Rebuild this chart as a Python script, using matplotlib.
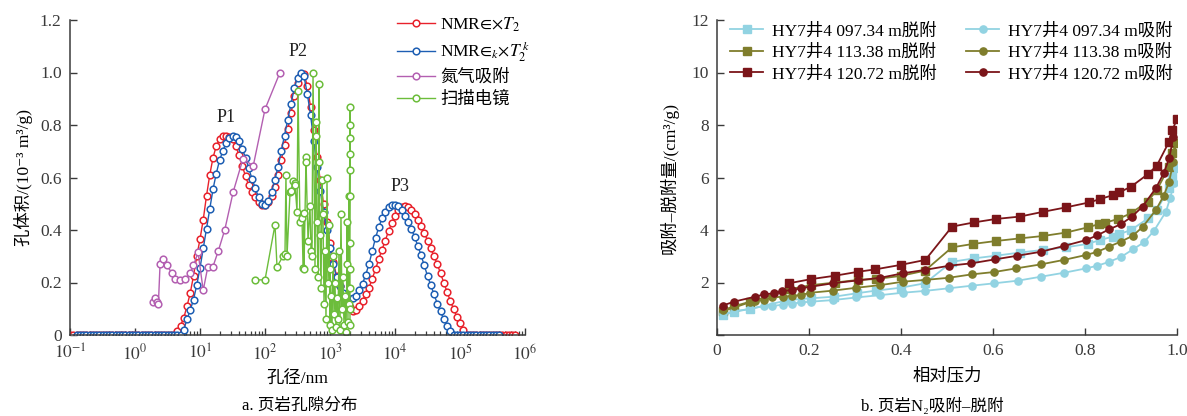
import numpy as np
import matplotlib
matplotlib.use("Agg")
import matplotlib.pyplot as plt
from matplotlib import rcParams
from matplotlib.ticker import FixedLocator, FuncFormatter, NullFormatter

rcParams["font.family"] = ["Liberation Serif", "Noto Sans CJK SC", "DejaVu Serif"]
rcParams["mathtext.fontset"] = "stix"
rcParams["axes.spines.top"] = False
rcParams["axes.spines.right"] = False
rcParams["axes.edgecolor"] = "#3a3a3a"
rcParams["axes.linewidth"] = 1.1
rcParams["xtick.color"] = "#3a3a3a"
rcParams["ytick.color"] = "#3a3a3a"
rcParams["axes.unicode_minus"] = False

RED = "#e8212b"; BLUE = "#1d5eb3"; PURPLE = "#b35fb1"; GREEN = "#6cbd3b"
LBLUE = "#92d3e2"; OLIVE = "#7f7d2c"; DRED = "#7b1519"

# ---------- panel a: pore size distribution ----------
# NMR T2 bins (20 per decade, 0.1 nm .. 7e5 nm)
d_nmr = 10 ** np.arange(-1.0, 5.851, 0.05)
v_nmr_t2 = [0.0] * 32 + [
    0.0, 0.015, 0.035, 0.065, 0.11, 0.16, 0.225, 0.30, 0.365, 0.44,
    0.53, 0.61, 0.675, 0.72, 0.745, 0.757, 0.76, 0.755, 0.745, 0.72,
    0.685, 0.645, 0.605, 0.57, 0.545, 0.525, 0.505, 0.495, 0.495, 0.505,
    0.53, 0.565, 0.61, 0.665, 0.725, 0.785, 0.845, 0.91, 0.96, 0.99,
    0.995, 0.95, 0.87, 0.78, 0.68, 0.59, 0.50, 0.43, 0.35, 0.28,
    0.225, 0.185, 0.155, 0.13, 0.105, 0.092, 0.095, 0.11, 0.13, 0.155,
    0.18, 0.215, 0.25, 0.29, 0.325, 0.36, 0.395, 0.425, 0.455, 0.475,
    0.488, 0.49, 0.486, 0.476, 0.46, 0.44, 0.415, 0.39, 0.36, 0.33,
    0.30, 0.27, 0.235, 0.20, 0.165, 0.13, 0.10, 0.07, 0.045, 0.02,
    0.0] + [0.0] * 15
v_nmr_t2k = [0.0] * 35 + [
    0.02, 0.06, 0.095, 0.135, 0.19, 0.255, 0.33, 0.405, 0.48, 0.555,
    0.615, 0.665, 0.70, 0.73, 0.75, 0.76, 0.755, 0.74, 0.71, 0.675,
    0.635, 0.595, 0.56, 0.525, 0.50, 0.495, 0.51, 0.545, 0.59, 0.64,
    0.70, 0.76, 0.82, 0.88, 0.94, 0.98, 1.0, 0.985, 0.92, 0.84,
    0.74, 0.64, 0.55, 0.47, 0.40, 0.33, 0.27, 0.22, 0.185, 0.16,
    0.145, 0.138, 0.14, 0.15, 0.17, 0.195, 0.23, 0.27, 0.32, 0.37,
    0.41, 0.445, 0.47, 0.488, 0.497, 0.497, 0.49, 0.475, 0.455, 0.43,
    0.405, 0.375, 0.34, 0.305, 0.265, 0.225, 0.19, 0.155, 0.12, 0.09,
    0.06, 0.035, 0.015, 0.0] + [0.0] * 19

d_n2 = [1.89, 2.04, 2.19, 2.29, 2.43, 2.69, 3.09, 3.72, 4.17, 4.9, 5.89, 7.08,
        7.94, 9.33, 11.2, 13.2, 15.8, 19.1, 24.0, 32.4, 45.7, 66.0, 100, 170]
v_n2 = [0.126, 0.14, 0.126, 0.118, 0.27, 0.29, 0.265, 0.235, 0.215, 0.21, 0.215, 0.235,
        0.265, 0.315, 0.17, 0.26, 0.26, 0.32, 0.40, 0.545, 0.67, 0.645, 0.86, 1.0]

d_sem = [70.1, 100, 142.5, 153, 189, 203, 210, 218, 243, 251, 270, 290, 290, 311, 322,
         345, 371, 385, 398, 398, 428, 428, 459, 492, 510, 528, 548, 588, 609, 609,
         631, 654, 677, 677, 702, 727, 754, 780, 809, 838, 868, 899, 931, 966, 1000,
         1000, 1036, 1073, 1112, 1152, 1193, 1236, 1281, 1327, 1374, 1424, 1475, 1528,
         1583, 1640, 1700, 1761, 1825, 1825, 1890, 1958, 1958, 2029, 2029, 2029, 2029,
         2029, 2029, 2029, 2029, 2029, 2029, 2029]
v_sem = [0.21, 0.21, 0.42, 0.26, 0.30, 0.31, 0.61, 0.30, 0.545, 0.55, 0.585, 0.58, 0.57,
         0.47, 0.93, 0.43, 0.445, 0.255, 0.465, 0.25, 0.68, 0.66, 0.36, 0.49, 0.32,
         0.30, 1.0, 0.25, 0.81, 0.76, 0.43, 0.22, 0.955, 0.66, 0.38, 0.18, 0.59, 0.46,
         0.12, 0.32, 0.06, 0.60, 0.20, 0.42, 0.04, 0.25, 0.15, 0.02, 0.30, 0.08, 0.20,
         0.03, 0.14, 0.06, 0.32, 0.02, 0.46, 0.10, 0.22, 0.04, 0.15, 0.01, 0.27, 0.43,
         0.05, 0.53, 0.12, 0.87, 0.80, 0.75, 0.69, 0.63, 0.53, 0.35, 0.25, 0.18, 0.10,
         0.04]

x_decades = [0.1, 1, 10, 100, 1e3, 1e4, 1e5, 1e6]
x_dec_exp = [-1, 0, 1, 2, 3, 4, 5, 6]

# ---------- panel b: N2 adsorption / desorption ----------
p_des_1 = [0.014, 0.038, 0.072, 0.154, 0.205, 0.255, 0.304, 0.345, 0.399, 0.452, 0.511,
           0.559, 0.606, 0.658, 0.708, 0.758, 0.806, 0.833, 0.861, 0.874, 0.900, 0.937,
           0.956, 0.983, 0.990, 0.998]
v_des_1 = [0.76, 0.89, 0.99, 1.33, 1.40, 1.46, 1.59, 1.69, 1.80, 1.97, 2.79, 2.92, 3.02,
           3.14, 3.24, 3.34, 3.47, 3.62, 3.75, 3.84, 4.00, 4.44, 4.76, 5.59, 6.03, 6.35]
p_des_2 = [0.014, 0.038, 0.072, 0.156, 0.205, 0.257, 0.307, 0.345, 0.399, 0.452, 0.511,
           0.557, 0.606, 0.658, 0.708, 0.758, 0.806, 0.831, 0.844, 0.872, 0.899, 0.936,
           0.956, 0.983, 0.990, 0.998]
v_des_2 = [0.92, 1.05, 1.25, 1.74, 1.90, 2.00, 2.10, 2.13, 2.25, 2.45, 3.34, 3.47, 3.58,
           3.68, 3.77, 3.90, 4.10, 4.23, 4.28, 4.42, 4.63, 5.08, 5.52, 6.41, 6.92, 7.30]
p_des_3 = [0.156, 0.205, 0.257, 0.307, 0.344, 0.399, 0.453, 0.511, 0.559, 0.606, 0.658,
           0.708, 0.758, 0.809, 0.833, 0.861, 0.874, 0.900, 0.937, 0.956, 0.983, 0.990,
           1.000]
v_des_3 = [1.97, 2.13, 2.26, 2.41, 2.50, 2.67, 2.86, 4.13, 4.29, 4.42, 4.51, 4.69, 4.86,
           5.05, 5.18, 5.33, 5.43, 5.65, 6.13, 6.45, 7.37, 7.81, 8.23]

p_ads_1 = [0.014, 0.038, 0.072, 0.102, 0.120, 0.143, 0.164, 0.182, 0.204, 0.252, 0.303,
           0.355, 0.404, 0.452, 0.504, 0.555, 0.603, 0.654, 0.704, 0.754, 0.803, 0.827,
           0.853, 0.879, 0.904, 0.928, 0.950, 0.976, 0.985, 0.994, 1.000]
v_ads_1 = [0.80, 0.90, 1.00, 1.10, 1.10, 1.16, 1.20, 1.24, 1.27, 1.33, 1.43, 1.52, 1.61,
           1.68, 1.78, 1.88, 1.97, 2.07, 2.22, 2.37, 2.54, 2.64, 2.79, 2.98, 3.26, 3.53,
           3.97, 4.70, 5.21, 5.80, 6.35]
p_ads_2 = [0.014, 0.038, 0.072, 0.083, 0.102, 0.120, 0.143, 0.164, 0.182, 0.203, 0.252,
           0.303, 0.355, 0.404, 0.454, 0.504, 0.554, 0.603, 0.651, 0.704, 0.754, 0.803,
           0.827, 0.853, 0.878, 0.904, 0.926, 0.954, 0.971, 0.983, 0.992, 0.998]
v_ads_2 = [0.95, 1.10, 1.27, 1.30, 1.33, 1.43, 1.46, 1.49, 1.52, 1.61, 1.69, 1.80, 1.90,
           2.03, 2.10, 2.18, 2.31, 2.40, 2.54, 2.69, 2.86, 3.05, 3.17, 3.37, 3.56, 3.78,
           4.13, 4.76, 5.30, 5.84, 6.60, 7.30]
p_ads_3 = [0.012, 0.037, 0.083, 0.103, 0.124, 0.141, 0.164, 0.182, 0.204, 0.252, 0.306,
           0.355, 0.404, 0.452, 0.505, 0.553, 0.604, 0.653, 0.704, 0.754, 0.803, 0.827,
           0.853, 0.878, 0.902, 0.925, 0.954, 0.971, 0.983, 0.992]
v_ads_3 = [1.12, 1.27, 1.46, 1.55, 1.59, 1.68, 1.71, 1.78, 1.84, 1.97, 2.08, 2.18, 2.35,
           2.48, 2.64, 2.73, 2.88, 3.02, 3.17, 3.39, 3.62, 3.80, 4.03, 4.22, 4.51, 4.89,
           5.59, 6.16, 6.73, 7.53]

depths = ["097.34", "113.38", "120.72"]

W, H = 1187, 416
fig = plt.figure(figsize=(W / 100, H / 100), dpi=100)
ax1 = fig.add_axes([70 / W, 81 / H, 455 / W, 315 / H])
ax2 = fig.add_axes([717 / W, 81 / H, 460 / W, 315 / H])

# ===== panel a =====
circ = dict(marker="o", mfc="white", ms=4.8, mew=1.1, lw=1.0)
ax1.plot(d_nmr, v_nmr_t2, color=RED, mec=RED, label=r"NMR$∈×T_2$", **circ)
ax1.plot(d_nmr[2:133], v_nmr_t2k[2:133], color=BLUE, mec=BLUE,
         label=r"NMR$∈_k×T_2^{\,k}$", **circ)
ax1.plot(d_n2, v_n2, color=PURPLE, mec=PURPLE, label="氮气吸附", **circ)
ax1.plot(d_sem, v_sem, color=GREEN, mec=GREEN, label="扫描电镜", **circ)

ax1.set_xscale("log")
ax1.set_xlim(0.1, 1e6)
ax1.set_ylim(0, 1.2)
ax1.set_xticks(x_decades)
ax1.set_xticklabels([rf"$10^{{{e}}}$" for e in x_dec_exp])
ax1.set_xticks([m * d for d in x_decades[:-1] for m in range(2, 10)], minor=True)
ax1.xaxis.set_minor_formatter(NullFormatter())
ax1.yaxis.set_major_locator(FixedLocator([0, 0.2, 0.4, 0.6, 0.8, 1.0, 1.2]))
ax1.yaxis.set_major_formatter(FuncFormatter(lambda v, p: "0" if v == 0 else f"{v:.1f}"))
ax1.tick_params(which="major", direction="in", length=5, width=1, labelsize=12.5, pad=6)
ax1.tick_params(which="minor", direction="in", length=3, width=0.9)
ax1.set_xlabel("孔径/nm", fontsize=12.5, labelpad=6)
ax1.set_ylabel("孔体积/(10⁻³ m³/g)", fontsize=12.5, labelpad=5)
for txt, xp, yp in [("P1", 25, 0.83), ("P2", 320, 1.08), ("P3", 1.2e4, 0.565)]:
    ax1.text(xp, yp, txt, fontsize=13, ha="center", va="center", color="#222")
ax1.legend(loc="upper right", bbox_to_anchor=(1.045, 1.065), frameon=False,
           fontsize=12.5, handlelength=2.2, handletextpad=0.3, labelspacing=0.33)
fig.text(300 / W, 1 - 406 / H, "a. 页岩孔隙分布", fontsize=12, ha="center", va="center")

# ===== panel b =====
cols = [LBLUE, OLIVE, DRED]
des = [(p_des_1, v_des_1), (p_des_2, v_des_2), (p_des_3, v_des_3)]
ads = [(p_ads_1, v_ads_1), (p_ads_2, v_ads_2), (p_ads_3, v_ads_3)]
hd, ha = [], []
for c, dep, (pd_, vd) in zip(cols, depths, des):
    h1, = ax2.plot(pd_, vd, color=c, marker="s", ms=5.2, lw=1.3, mec=c,
                   label=f"HY7井4 {dep} m脱附")
    hd.append(h1)
for c, dep, (pa, va) in zip(cols, depths, ads):
    h2, = ax2.plot(pa, va, color=c, marker="o", ms=5.2, lw=1.3, mec=c,
                   label=f"HY7井4 {dep} m吸附")
    ha.append(h2)
ax2.set_xlim(0, 1.0)
ax2.set_ylim(0, 12)
ax2.set_xticks([0, 0.2, 0.4, 0.6, 0.8, 1.0])
ax2.xaxis.set_major_formatter(FuncFormatter(lambda v, p: "0" if v == 0 else f"{v:.1f}"))
ax2.set_yticks([0, 2, 4, 6, 8, 10, 12])
ax2.yaxis.set_major_formatter(FuncFormatter(lambda v, p: "" if v == 0 else f"{v:.0f}"))
ax2.tick_params(direction="in", length=5, width=1, labelsize=12.5, pad=6)
ax2.set_xlabel("相对压力", fontsize=12.5, labelpad=6)
ax2.set_ylabel("吸附–脱附量/(cm³/g)", fontsize=12.5, labelpad=9)
ax2.legend(hd + ha, [h.get_label() for h in hd + ha], ncol=2, loc="upper left",
           bbox_to_anchor=(-0.005, 1.04), frameon=False, fontsize=12.5, handlelength=1.9,
           handletextpad=0.5, labelspacing=0.3, columnspacing=1.7)
fig.text(932 / W, 1 - 406 / H, "b. 页岩N₂吸附–脱附", fontsize=12, ha="center", va="center")

fig.savefig("out.png", dpi=100, facecolor="white")
